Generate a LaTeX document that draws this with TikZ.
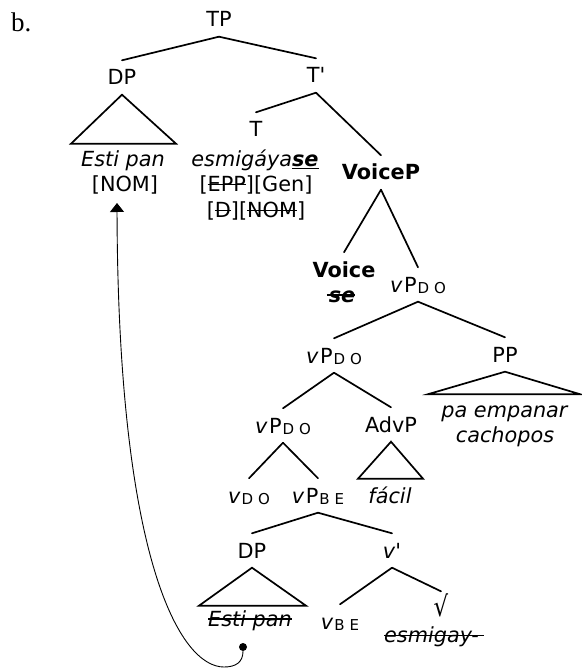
\documentclass[tikz,border=0pt]{standalone}
\usepackage{fontspec}
\setmainfont{DejaVu Sans}
\newfontfamily\serifb{Liberation Serif}
\usetikzlibrary{arrows.meta}
\newcommand\strk[2][0.34em]{\begingroup\setbox0\hbox{#2}\rlap{\rule[#1]{\wd0}{1.4pt}}\box0\endgroup}
\newcommand\sbs[1]{\raisebox{-1.5pt}{\fontsize{15}{15}\selectfont\hspace{1pt}#1}}
\newcommand\vP{\textit{v}\hspace{1.5pt}P}
\begin{document}
\begin{tikzpicture}[x=1pt,y=-1pt,
  every node/.style={font=\fontsize{20.8}{25}\selectfont, inner sep=0pt},
  lab/.style={anchor=base, text height=15pt, text depth=0pt, inner xsep=1pt, inner ysep=9.5pt},
  txt/.style={anchor=base, inner sep=0pt},
  branch/.style={line width=1.7pt, line cap=round},
  tri/.style={line width=1.7pt, line join=miter}]
\useasboundingbox (0,0) rectangle (581,668);
% label
\node[txt, anchor=base west, font=\serifb\fontsize{27}{27}\selectfont] (b) at (11,32) {b.};
% tree labels
\node[lab] (TP) at (219,27) {TP};
\node[lab] (DP1) at (122,85) {DP};
\node[lab] (Tbar) at (316,83) {T\textquotesingle};
\node[lab] (T) at (256,137) {T};
\node[lab] (VoiceP) at (381,180) {\textbf{VoiceP}};
\node[lab] (Voice) at (344,277) {\textbf{Voice}};
\node[lab] (vP1) at (418,292) {\vP\sbs{D\hspace{5pt}O}};
\node[lab] (vP2) at (334,363) {\vP\sbs{D\hspace{5pt}O}};
\node[lab] (PP) at (505,362) {PP};
\node[lab] (vP3) at (283,433) {\vP\sbs{D\hspace{5pt}O}};
\node[lab] (AdvP) at (391,432) {AdvP};
\node[lab] (vDO) at (249,503) {\textit{v}\sbs{D\hspace{5pt}O}};
\node[lab] (vPBE) at (318,503) {\vP\sbs{B\hspace{5pt}E}};
\node[lab] (DP2) at (252,558) {DP};
\node[lab] (vbar) at (392,558) {\textit{v}\textquotesingle};
\node[lab] (vBE) at (340,629) {\textit{v}\sbs{B\hspace{5pt}E}};
\node[lab] (root) at (441,616) {\scalebox{1.1}[1.35]{√}};
% terminal texts
\node[txt] (esti1) at (123,167) {\textit{Esti pan}};
\node[txt] (nom) at (125,192) {[NOM]};
\node[txt] (esm) at (255,167) {\textit{esmigáya\underline{\textbf{se}}}};
\node[txt] (epp) at (256,192) {[\strk{EPP}][Gen]};
\node[txt] (dnom) at (256,218) {[\strk{D}][\strk{NOM}]};
\node[txt] (se) at (341,302) {\strk[0.3em]{\hspace{2pt}\textbf{\textit{se}}}};
\node[txt] (pa) at (505,417) {\textit{pa empanar}};
\node[txt] (cach) at (505,442) {\textit{cachopos}};
\node[txt] (facil) at (390,503) {\textit{fácil}};
\node[txt] (esti2) at (250,626) {\strk[0.3em]{\textit{Esti pan}}};
\node[txt] (esmg) at (434,642) {\strk[0.27em]{\textit{esmigay-}\hspace{5pt}}};
% branches
\draw[branch] (TP.south) -- (DP1.north);
\draw[branch] (TP.south) -- (Tbar.north);
\draw[branch] (Tbar.south) -- (T.north);
\draw[branch] (Tbar.south) -- (VoiceP.north);
\draw[branch] (VoiceP.south) -- (Voice.north);
\draw[branch] (VoiceP.south) -- (vP1.north);
\draw[branch] (vP1.south) -- (vP2.north);
\draw[branch] (vP1.south) -- (PP.north);
\draw[branch] (vP2.south) -- (vP3.north);
\draw[branch] (vP2.south) -- (AdvP.north);
\draw[branch] (vP3.south) -- (vDO.north);
\draw[branch] (vP3.south) -- (vPBE.north);
\draw[branch] (vPBE.south) -- (DP2.north);
\draw[branch] (vPBE.south) -- (vbar.north);
\draw[branch] (vbar.south) -- (vBE.north);
\draw[branch] (vbar.south) -- (root.north);
% triangles
\draw[tri] (DP1.south) -- ++(-51,49) -- ++(105,0) -- cycle;
\draw[tri] (PP.south) -- ++(-77,22.5) -- ++(152,0) -- cycle;
\draw[tri] (AdvP.south) -- ++(-33,37) -- ++(65,0) -- cycle;
\draw[tri] (DP2.south) -- ++(-53,38) -- ++(107,0) -- cycle;
% movement arrow
\node[circle, fill=black, minimum size=8pt] (dot) at (243,647) {};
\coordinate (tip) at (117,203);
\draw[line width=0.9pt, -{Triangle[width=14pt,length=9pt]}] (dot) .. controls (243,662) and (236,667) .. (224,667) .. controls (180,667) and (118,560) .. (tip);
\end{tikzpicture}
\end{document}
